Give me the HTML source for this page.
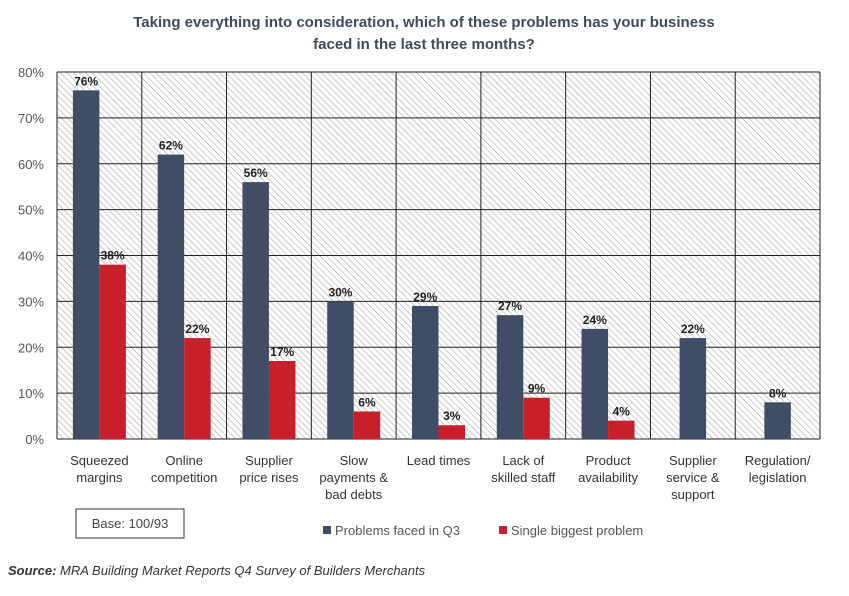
<!DOCTYPE html>
<html><head><meta charset="utf-8"><style>
body{margin:0;background:#fff;font-family:"Liberation Sans",sans-serif;}
svg text{font-family:"Liberation Sans",sans-serif;}
</style></head><body>
<svg id="c" width="849" height="591" xmlns="http://www.w3.org/2000/svg">
<defs><pattern id="h" width="4.5" height="4.5" patternUnits="userSpaceOnUse" patternTransform="rotate(-45)"><rect width="4.5" height="4.5" fill="#fff"/><line x1="0" y1="0" x2="0" y2="4.5" stroke="#a8a8a8" stroke-width="1.2"/></pattern></defs>
<text x="424" y="27" text-anchor="middle" font-size="15" font-weight="bold" fill="#3f4a5a">Taking everything into consideration, which of these problems has your business</text>
<text x="424" y="49" text-anchor="middle" font-size="15" font-weight="bold" fill="#3f4a5a">faced in the last three months?</text>
<g id="plot"></g>
<rect x="76" y="509" width="108" height="29" fill="#fff" stroke="#333"/>
<text x="130" y="528" text-anchor="middle" font-size="13" fill="#444">Base: 100/93</text>
<rect x="323" y="526" width="8" height="8" fill="#3f4e66"/>
<text x="335" y="535" font-size="13" fill="#555">Problems faced in Q3</text>
<rect x="499" y="526" width="8" height="8" fill="#c8202a"/>
<text x="511" y="535" font-size="13" fill="#555">Single biggest problem</text>
<text x="8" y="575" font-size="13" font-style="italic" fill="#333"><tspan font-weight="bold">Source:</tspan> MRA Building Market Reports Q4 Survey of Builders Merchants</text>
</svg>
<script>
const categories=[["Squeezed","margins"],["Online","competition"],["Supplier","price rises"],["Slow","payments &","bad debts"],["Lead times"],["Lack of","skilled staff"],["Product","availability"],["Supplier","service &","support"],["Regulation/","legislation"]];
const q3Values=[76,62,56,30,29,27,24,22,8];
const biggestValues=[38,22,17,6,3,9,4,null,null];
const yTicks=[0,10,20,30,40,50,60,70,80];
const L=57,R=820,T=72,B=439,yMax=80;
const ns="http://www.w3.org/2000/svg";
const g=document.getElementById("plot");
const cw=(R-L)/categories.length;
const y=v=>B-(v/yMax)*(B-T);
const xc=i=>L+cw*(i+0.5);
function mk(t,a,p){const e=document.createElementNS(ns,t);for(const k in a)e.setAttribute(k,a[k]);(p||g).appendChild(e);return e;}
let bg=mk("rect",{x:L,y:T,width:R-L,height:B-T,fill:"url(#h)"});


yTicks.forEach(t=>{
 let ln=mk("line",{x1:L,x2:R,y1:y(t),y2:y(t),stroke:"#222","stroke-width":1});
 
 
 let tx=mk("text",{x:44,y:y(t)+5,"text-anchor":"end","font-size":13,fill:"#555"});
 tx.textContent=t+"%";
 
 
});
for(let i=0;i<=categories.length;i++){
 let ln=mk("line",{x1:L+cw*i,x2:L+cw*i,y1:T,y2:B,stroke:"#222","stroke-width":1});
 
 
}
const bw=26.5;
categories.forEach((c,i)=>{
 const hasB=biggestValues[i]!=null;
 const x1=hasB?xc(i)-bw:xc(i)-bw/2;
 let b=mk("rect",{x:x1,y:y(q3Values[i]),width:bw,height:B-y(q3Values[i]),fill:"#3f4e66"});
 
 
 let l=mk("text",{x:x1+bw/2,y:y(q3Values[i])-5,"text-anchor":"middle","font-size":12,"font-weight":"bold",fill:"#222"});
 l.textContent=q3Values[i]+"%";
 
 
 if(hasB){
  let r=mk("rect",{x:xc(i),y:y(biggestValues[i]),width:bw,height:B-y(biggestValues[i]),fill:"#c8202a"});
  
  
  let l2=mk("text",{x:xc(i)+bw/2,y:y(biggestValues[i])-5,"text-anchor":"middle","font-size":12,"font-weight":"bold",fill:"#222"});
  l2.textContent=biggestValues[i]+"%";
  
  
 }
 c.forEach((s,j)=>{
  let t=mk("text",{x:xc(i),y:465+j*17,"text-anchor":"middle","font-size":13,fill:"#333"});
  t.textContent=s;
  
  
 });
});
</script>
</body></html>
